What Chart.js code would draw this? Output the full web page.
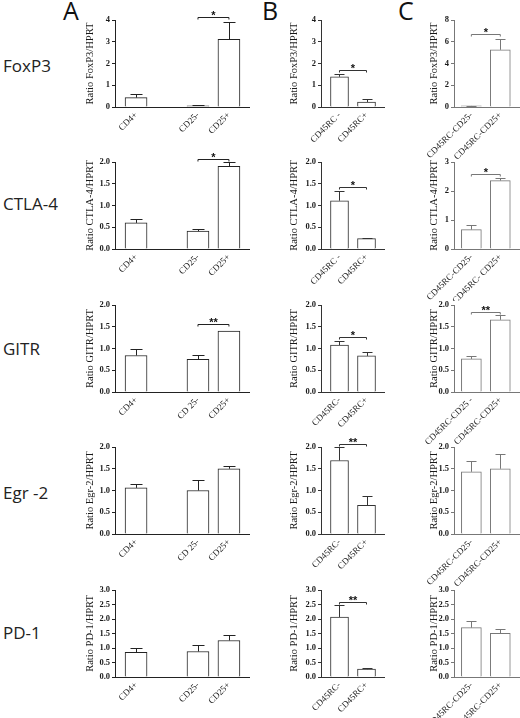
<!DOCTYPE html>
<html>
<head>
<meta charset="utf-8">
<script src="https://cdn.jsdelivr.net/npm/chart.js@4.4.1/dist/chart.umd.min.js"></script>
<style>
  html, body { margin: 0; padding: 0; background: #fff; }
  #fig { position: relative; width: 520px; height: 718px; overflow: hidden; background: #fff; }
  #fig canvas { position: absolute; }
  .gene { position: absolute; left: 3px; font: 17px "Open Sans", sans-serif; color: #222; transform: translateY(-50%); white-space: nowrap; }
  .panel { position: absolute; top: -7px; font: 25px "Open Sans", sans-serif; color: #111; }
</style>
</head>
<body>
<div id="fig"></div>
<script>
// ------- DATA -------
const genes = ['FoxP3', 'CTLA-4', 'GITR', 'Egr -2', 'PD-1'];
const yTitles = ['Ratio FoxP3/HPRT', 'Ratio CTLA-4/HPRT', 'Ratio GITR/HPRT', 'Ratio Egr-2/HPRT', 'Ratio PD-1/HPRT'];
const panelNames = ['A', 'B', 'C'];

// column A: an empty slot sits between CD4+ and CD25-
const aLabels = [
  ['CD4+', '', 'CD25-', 'CD25+'],
  ['CD4+', '', 'CD25-', 'CD25+'],
  ['CD4+', '', 'CD 25-', 'CD25+'],
  ['CD4+', '', 'CD 25-', 'CD25+'],
  ['CD4+', '', 'CD25-', 'CD25+']
];
const aMean = [
  [0.43, null, 0.05, 3.11],
  [0.60, null, 0.41, 1.90],
  [0.84, null, 0.75, 1.40],
  [1.06, null, 1.00, 1.50],
  [0.85, null, 0.88, 1.26]
];
const aErr = [
  [0.15, null, 0.03, 0.81],
  [0.10, null, 0.06, 0.10],
  [0.15, null, 0.10, 0.00],
  [0.08, null, 0.23, 0.07],
  [0.16, null, 0.24, 0.19]
];

// column B
const bLabels = [
  ['CD45RC -', 'CD45RC+'],
  ['CD45RC -', 'CD45RC+'],
  ['CD45RC-', 'CD45RC+'],
  ['CD45RC-', 'CD45RC+'],
  ['CD45RC-', 'CD45RC+']
];
const bMean = [[1.39, 0.23], [1.11, 0.24], [1.08, 0.83], [1.69, 0.66], [2.07, 0.27]];
const bErr = [[0.15, 0.14], [0.23, 0.02], [0.10, 0.09], [0.30, 0.21], [0.42, 0.05]];

// column C
const cLabels = [
  ['CD45RC-CD25-', 'CD45RC-CD25+'],
  ['CD45RC-CD25-', 'CD45RC- CD25+'],
  ['CD45RC-CD25 -', 'CD45RC-CD25+'],
  ['CD45RC-CD25-', 'CD45RC-CD25+'],
  ['CD45RC-CD25-', 'CD45RC-CD25+']
];
const cMean = [[0.10, 5.26], [0.67, 2.36], [0.76, 1.66], [1.43, 1.50], [1.70, 1.51]];
const cErr = [[0.02, 0.98], [0.15, 0.10], [0.06, 0.10], [0.24, 0.34], [0.22, 0.15]];

// y axis max and tick step per panel
const aAxis = [[4, 1], [2, 0.5], [2, 0.5], [2, 0.5], [3, 0.5]];
const bAxis = [[4, 1], [2, 0.5], [2, 0.5], [2, 0.5], [3, 0.5]];
const cAxis = [[8, 2], [3, 1], [2, 0.5], [2, 0.5], [3, 0.5]];

// significance: [from category, to category, bracket level, mark]
const aSig = [[2, 3, 4.12, '*'], [2, 3, 2.08, '*'], [2, 3, 1.56, '**'], null, null];
const bSig = [[0, 1, 1.69, '*'], [0, 1, 1.42, '*'], [0, 1, 1.26, '*'], [0, 1, 2.07, '**'], [0, 1, 2.6, '**']];
const cSig = [[0, 1, 6.7, '*'], [0, 1, 2.6, '*'], [0, 1, 1.85, '**'], null, null];

// ------- LAYOUT -------
const rowTop = [20, 162, 305, 447, 590];
const plotH = 87;
const padTop = 22, leftW = 60, bottomH = 52;
const geneY = [65, 203, 348, 492, 632];
const panelX = [63, 262, 398];

const columns = [
  { labels: aLabels, mean: aMean, err: aErr, axis: aAxis, sig: aSig,
    axisX: 115, plotW: 135, xMin: -0.68, xMax: 3.68, bar: 22, titleOff: 25, color: '#222' },
  { labels: bLabels, mean: bMean, err: bErr, axis: bAxis, sig: bSig,
    axisX: 321, plotW: 64, xMin: -0.685, xMax: 1.685, bar: 18, titleOff: 27, color: '#333' },
  { labels: cLabels, mean: cMean, err: cErr, axis: cAxis, sig: cSig,
    axisX: 454, plotW: 68, xMin: -0.6, xMax: 1.75, bar: 20, titleOff: 20, color: '#777' }
];

const fig = document.getElementById('fig');
const serif = '"Liberation Serif", "Times New Roman", serif';

// ERROR BARS
function errorBars(errs, color) {
  return {
    id: 'errorBars',
    afterDatasetsDraw(chart) {
      const ctx = chart.ctx;
      const ys = chart.scales.y;
      const pts = chart.data.datasets[0].data;
      ctx.save();
      ctx.strokeStyle = color;
      ctx.lineWidth = 1;
      chart.getDatasetMeta(0).data.forEach((bar, i) => {
        const e = errs[i];
        if (!e) return;
        const x = Math.round(bar.x) + 0.5;
        const top = Math.round(ys.getPixelForValue(pts[i].y + e)) + 0.5;
        const half = Math.round(bar.width / 4);
        ctx.beginPath();
        ctx.moveTo(x, bar.y);
        ctx.lineTo(x, top);
        ctx.moveTo(x - half, top);
        ctx.lineTo(x + half, top);
        ctx.stroke();
      });
      ctx.restore();
    }
  };
}

// SIGNIFICANCE BRACKET
function bracket(sig, color) {
  return {
    id: 'bracket',
    afterDatasetsDraw(chart) {
      if (!sig) return;
      const [from, to, level, mark] = sig;
      const ctx = chart.ctx;
      const x1 = chart.scales.x.getPixelForValue(from);
      const x2 = chart.scales.x.getPixelForValue(to);
      const y = Math.round(chart.scales.y.getPixelForValue(level)) + 0.5;
      ctx.save();
      ctx.strokeStyle = color;
      ctx.lineWidth = 1;
      ctx.beginPath();
      ctx.moveTo(x1, y + 2);
      ctx.lineTo(x1, y);
      ctx.lineTo(x2, y);
      ctx.lineTo(x2, y + 2);
      ctx.stroke();
      ctx.fillStyle = '#111';
      ctx.font = 'bold 11px "Liberation Sans", sans-serif';
      ctx.textAlign = 'center';
      ctx.textBaseline = 'middle';
      ctx.fillText(mark, (x1 + x2) / 2, y - 2);
      ctx.restore();
    }
  };
}

function makePanel(col, r) {
  const labels = col.labels[r];
  const points = [];
  const errs = [];
  col.mean[r].forEach((v, i) => {
    if (v === null) return;
    points.push({ x: i, y: v });
    errs.push(col.err[r][i]);
  });
  const tickPos = labels.map((l, i) => i).filter(i => labels[i] !== '');
  const [yMax, step] = col.axis[r];

  const canvas = document.createElement('canvas');
  const w = leftW + col.plotW, h = padTop + plotH + bottomH;
  canvas.width = w;
  canvas.height = h;
  canvas.style.left = (col.axisX - leftW) + 'px';
  canvas.style.top = (rowTop[r] - padTop) + 'px';
  fig.appendChild(canvas);

  new Chart(canvas, {
    type: 'bar',
    data: {
      datasets: [{
        data: points,
        backgroundColor: '#fff',
        borderColor: col.color,
        borderWidth: 1,
        barThickness: col.bar
      }]
    },
    options: {
      responsive: false,
      animation: false,
      events: [],
      layout: { padding: { top: padTop, left: 0, right: 0, bottom: 0 } },
      plugins: { legend: { display: false }, tooltip: { enabled: false } },
      scales: {
        x: {
          type: 'linear',
          offset: false,
          min: col.xMin,
          max: col.xMax,
          afterBuildTicks: s => { s.ticks = tickPos.map(v => ({ value: v })); },
          afterFit: s => { s.height = bottomH; s.paddingLeft = 0; s.paddingRight = 0; },
          grid: { display: false, drawTicks: false, offset: false },
          border: { display: true, color: col.color, width: 1 },
          ticks: {
            autoSkip: false,
            minRotation: 45,
            maxRotation: 45,
            padding: 3,
            color: '#1a1a1a',
            font: { family: serif, size: 9 },
            callback: v => labels[v]
          }
        },
        y: {
          min: 0,
          max: yMax,
          afterFit: s => { s.width = leftW; s.paddingTop = 0; s.paddingBottom = 0; },
          grid: { display: true, drawOnChartArea: false, drawTicks: true, tickLength: 3, color: col.color },
          border: { display: true, color: col.color, width: 1 },
          ticks: {
            stepSize: step,
            padding: 2,
            color: '#1a1a1a',
            font: { family: serif, size: 8.5, weight: 'bold' },
            callback: v => step < 1 ? v.toFixed(1) : v
          },
          title: {
            display: true,
            text: yTitles[r],
            color: '#1a1a1a',
            font: { family: serif, size: 10.5 },
            padding: { top: leftW - col.titleOff - 6, bottom: 0 }
          }
        }
      }
    },
    plugins: [errorBars(errs, col.color), bracket(col.sig[r], col.color)]
  });
}

genes.forEach((g, r) => {
  const d = document.createElement('div');
  d.className = 'gene';
  d.style.top = geneY[r] + 'px';
  d.textContent = g;
  fig.appendChild(d);
});
panelNames.forEach((p, i) => {
  const d = document.createElement('div');
  d.className = 'panel';
  d.style.left = panelX[i] + 'px';
  d.textContent = p;
  fig.appendChild(d);
});

columns.forEach(col => {
  for (let r = 0; r < genes.length; r++) makePanel(col, r);
});
</script>
</body>
</html>
